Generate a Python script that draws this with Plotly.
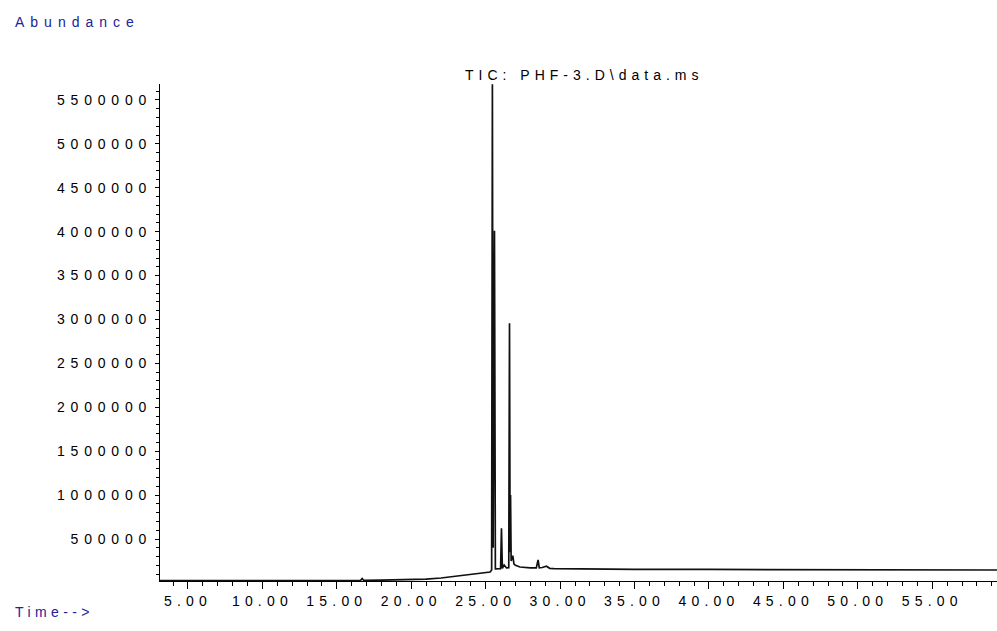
import plotly.graph_objects as go

# ---- data (time in min, abundance) ----
times = [3.12, 5.0, 8.0, 10.0, 12.0, 14.0, 15.9, 16.6, 16.7, 16.8, 18.0, 19.5,
         21.0, 22.0, 23.0, 24.0, 24.6, 25.0, 25.3, 25.40, 25.45, 25.50, 25.59,
         25.65, 25.9, 26.00, 26.06, 26.12, 26.24, 26.4, 26.55, 26.60, 26.64,
         26.67, 26.71, 26.82, 26.9, 27.0, 27.3, 27.6, 28.0, 28.4, 28.52, 28.6,
         28.8, 29.08, 29.3, 29.6, 30.5, 32.0, 35.0, 40.0, 45.0, 50.0, 55.0, 59.35]
abundance = [25000, 25000, 26000, 26000, 27000, 28000, 30000, 30000, 50000, 30000,
             31000, 35000, 43000, 56000, 75000, 92000, 105000, 114000, 124000,
             147000, 5680000, 400000, 4010000, 160000, 160000, 162000, 622000,
             165000, 204000, 170000, 172000, 2957000, 350000, 1000000, 250000,
             310000, 215000, 200000, 181000, 175000, 172000, 170000, 261000,
             172000, 175000, 190000, 166000, 162000, 160000, 157000, 155000,
             153000, 152000, 150000, 149000, 147000]

x_tick_vals = [5, 10, 15, 20, 25, 30, 35, 40, 45, 50, 55]
x_tick_labels = ["5.00", "10.00", "15.00", "20.00", "25.00", "30.00", "35.00",
                 "40.00", "45.00", "50.00", "55.00"]
x_minor_vals = list(range(4, 60))
y_tick_vals = [500000, 1000000, 1500000, 2000000, 2500000, 3000000, 3500000,
               4000000, 4500000, 5000000, 5500000]
y_tick_labels = ["500000", "1000000", "1500000", "2000000", "2500000", "3000000",
                 "3500000", "4000000", "4500000", "5000000", "5500000"]
y_minor_vals = [v * 100000 for v in range(1, 57)]

title_text = "TIC: PHF-3.D\\data.ms"
y_caption = "Abundance"
x_caption = "Time-->"


def spaced(s, ls):
    return '<span style="letter-spacing:%spx">%s</span>' % (ls, s)


FONT = "Liberation Sans, Arial, sans-serif"
BLUE = "#22229a"
PW = 837   # plot area width
PH = 497   # plot area height

fig = go.Figure()
fig.add_trace(go.Scatter(x=times, y=abundance, mode="lines",
                         line=dict(color="#111111", width=1.7),
                         hoverinfo="skip", showlegend=False))

fig.update_layout(
    width=997, height=631, autosize=False,
    margin=dict(l=160, r=0, t=84, b=50, pad=0),
    paper_bgcolor="white", plot_bgcolor="white",
    font=dict(family=FONT, size=14, color="black"),
    showlegend=False,
    xaxis=dict(
        range=[3.12, 59.35], showgrid=False, zeroline=False,
        showline=True, linecolor="black", linewidth=1.2,
        ticks="outside", ticklen=7, tickwidth=1, tickcolor="black",
        tickmode="array", tickvals=x_tick_vals,
        ticktext=[spaced(t, 5.2) for t in x_tick_labels],
        tickfont=dict(family=FONT, size=14, color="black"),
        minor=dict(tickmode="array", tickvals=x_minor_vals, ticks="outside",
                   ticklen=4, tickwidth=1, tickcolor="black"),
    ),
    yaxis=dict(
        range=[21600, 5682000], showgrid=False, zeroline=False,
        showline=True, linecolor="black", linewidth=1.2,
        ticks="outside", ticklen=4, tickwidth=1, tickcolor="black",
        tickmode="array", tickvals=y_tick_vals,
        ticktext=[spaced(t, 5.8) for t in y_tick_labels],
        tickfont=dict(family=FONT, size=14, color="black"),
        minor=dict(tickmode="array", tickvals=y_minor_vals, ticks="outside",
                   ticklen=3, tickwidth=1, tickcolor="black"),
    ),
    annotations=[
        dict(text=spaced(title_text, 5), xref="paper", yref="paper",
             x=0.506, y=1 + 9 / PH, xanchor="center", yanchor="middle",
             showarrow=False, font=dict(family=FONT, size=14, color="black")),
        dict(text=spaced(y_caption, 6), xref="paper", yref="paper",
             x=-147 / PW, y=1 + 62 / PH, xanchor="left", yanchor="middle",
             showarrow=False, font=dict(family=FONT, size=14, color=BLUE)),
        dict(text=spaced(x_caption, 4.4), xref="paper", yref="paper",
             x=-147 / PW, y=-31 / PH, xanchor="left", yanchor="middle",
             showarrow=False, font=dict(family=FONT, size=14, color=BLUE)),
    ],
)

# remove the browser's default 8px page margin so the 997x631 figure fills the window
fig.write_html("out.html",
               config={"displayModeBar": False},
               post_script="document.body.style.margin='0';"
                           "document.body.style.overflow='hidden';"
                           "Plotly.Plots.resize(document.getElementById('{plot_id}'));")
